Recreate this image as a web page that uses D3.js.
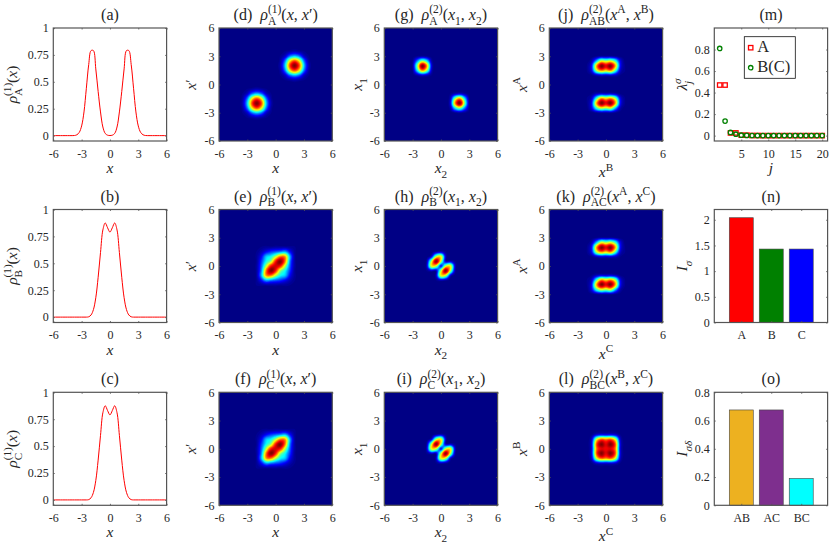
<!DOCTYPE html>
<html>
<head>
<meta charset="utf-8">
<script src="https://cdn.jsdelivr.net/npm/d3@7"></script>
<style>
  body { margin: 0; background: #fff; }
  text { font-family: "Liberation Serif", "DejaVu Serif", serif; fill: #262626; white-space: pre; }
</style>
</head>
<body>
<svg id="chart" width="830" height="545"></svg>
<script>
// tick labels
const xTicks = [-6, -3, 0, 3, 6];
const densityTicks = [0, 0.25, 0.5, 0.75, 1];
const lambdaXTicks = [5, 10, 15, 20];
const lambdaYTicks = [0, 0.2, 0.4, 0.6, 0.8];
const entropyTicks = [0, 0.5, 1, 1.5, 2];
const mutualTicks = [0, 0.2, 0.4, 0.6, 0.8];

// one body densities, (a) (b) (c)
const densityX = [-6, -5.75, -5.5, -5.25, -5, -4.75, -4.5, -4.25, -4, -3.75, -3.5, -3.25, -3, -2.75, -2.5, -2.25, -2, -1.75, -1.5, -1.25, -1, -0.75, -0.5, -0.25, 0, 0.25, 0.5, 0.75, 1, 1.25, 1.5, 1.75, 2, 2.25, 2.5, 2.75, 3, 3.25, 3.5, 3.75, 4, 4.25, 4.5, 4.75, 5, 5.25, 5.5, 5.75, 6];
const densityA = [0, 0, 0, 0, 0, 0, 0, 0, 0, 0.001, 0.008, 0.03, 0.09, 0.22, 0.44, 0.66, 0.79, 0.79, 0.62, 0.41, 0.22, 0.08, 0.02, 0.004, 0.001, 0.004, 0.02, 0.08, 0.22, 0.41, 0.62, 0.79, 0.79, 0.66, 0.44, 0.22, 0.09, 0.03, 0.008, 0.001, 0, 0, 0, 0, 0, 0, 0, 0, 0];
const densityB = [0, 0, 0, 0, 0, 0, 0, 0, 0, 0, 0, 0, 0, 0, 0, 0.003, 0.02, 0.07, 0.18, 0.37, 0.6, 0.81, 0.875, 0.83, 0.79, 0.83, 0.875, 0.81, 0.6, 0.37, 0.18, 0.07, 0.02, 0.003, 0, 0, 0, 0, 0, 0, 0, 0, 0, 0, 0, 0, 0, 0, 0];
const densityC = [0, 0, 0, 0, 0, 0, 0, 0, 0, 0, 0, 0, 0, 0, 0, 0.003, 0.02, 0.07, 0.18, 0.37, 0.6, 0.81, 0.875, 0.83, 0.79, 0.83, 0.875, 0.81, 0.6, 0.37, 0.18, 0.07, 0.02, 0.003, 0, 0, 0, 0, 0, 0, 0, 0, 0, 0, 0, 0, 0, 0, 0];

// natural occupations (m)
const orbitalJ = [1, 2, 3, 4, 5, 6, 7, 8, 9, 10, 11, 12, 13, 14, 15, 16, 17, 18, 19, 20];
const lambdaA = [0.47, 0.47, 0.025, 0.025, 0.004, 0.004, 0.001, 0.001, 0, 0, 0, 0, 0, 0, 0, 0, 0, 0, 0, 0];
const lambdaB = [0.81, 0.135, 0.03, 0.013, 0.004, 0.002, 0.001, 0, 0, 0, 0, 0, 0, 0, 0, 0, 0, 0, 0, 0];

// entropies (n) and mutual information (o)
const speciesNames = ["A", "B", "C"];
const speciesEntropy = [2.04, 1.43, 1.43];
const pairNames = ["AB", "AC", "BC"];
const pairInfo = [0.675, 0.675, 0.19];

// heat map samples in percent of the peak, x and y from -4 to 4 by 0.5, top row y = 4
const gridStep = 0.5;
const gridStart = -4;
const rho1A = [
  [0,0,0,0,0,0,0,0,0,0,0,0,0,0,0,0,0],
  [0,0,0,0,0,0,0,0,0,0,1,3,5,3,1,0,0],
  [0,0,0,0,0,0,0,0,0,1,7,24,32,24,7,1,0],
  [0,0,0,0,0,0,0,0,0,3,24,62,80,62,24,3,0],
  [0,0,0,0,0,0,0,0,0,5,32,80,100,80,32,5,0],
  [0,0,0,0,0,0,0,0,0,3,24,62,80,62,24,3,0],
  [0,0,0,0,0,0,0,0,0,1,7,24,32,24,7,1,0],
  [0,0,0,0,0,0,0,0,0,0,1,3,5,3,1,0,0],
  [0,0,0,0,0,0,0,0,0,0,0,0,0,0,0,0,0],
  [0,0,1,3,5,3,1,0,0,0,0,0,0,0,0,0,0],
  [0,1,7,24,32,24,7,1,0,0,0,0,0,0,0,0,0],
  [0,3,24,62,80,62,24,3,0,0,0,0,0,0,0,0,0],
  [0,5,32,80,100,80,32,5,0,0,0,0,0,0,0,0,0],
  [0,3,24,62,80,62,24,3,0,0,0,0,0,0,0,0,0],
  [0,1,7,24,32,24,7,1,0,0,0,0,0,0,0,0,0],
  [0,0,1,3,5,3,1,0,0,0,0,0,0,0,0,0,0],
  [0,0,0,0,0,0,0,0,0,0,0,0,0,0,0,0,0]
];
const rho1B = [
  [0,0,0,0,0,0,0,0,0,0,0,0,0,0,0,0,0],
  [0,0,0,0,0,0,0,0,0,0,0,0,0,0,0,0,0],
  [0,0,0,0,0,0,0,0,0,0,0,0,0,0,0,0,0],
  [0,0,0,0,0,0,0,0,0,0,0,0,0,0,0,0,0],
  [0,0,0,0,0,1,2,2,3,3,3,2,1,0,0,0,0],
  [0,0,0,0,1,5,12,18,22,26,30,14,2,0,0,0,0],
  [0,0,0,0,2,12,32,38,55,75,72,30,3,0,0,0,0],
  [0,0,0,0,2,18,38,52,85,100,75,26,3,0,0,0,0],
  [0,0,0,0,3,22,55,85,92,85,55,22,3,0,0,0,0],
  [0,0,0,0,3,26,75,100,85,52,38,18,2,0,0,0,0],
  [0,0,0,0,3,30,72,75,55,38,32,12,2,0,0,0,0],
  [0,0,0,0,2,14,30,26,22,18,12,5,1,0,0,0,0],
  [0,0,0,0,1,2,3,3,3,2,2,1,0,0,0,0,0],
  [0,0,0,0,0,0,0,0,0,0,0,0,0,0,0,0,0],
  [0,0,0,0,0,0,0,0,0,0,0,0,0,0,0,0,0],
  [0,0,0,0,0,0,0,0,0,0,0,0,0,0,0,0,0],
  [0,0,0,0,0,0,0,0,0,0,0,0,0,0,0,0,0]
];
const rho2A = [
  [0,0,0,0,0,0,0,0,0,0,0,0,0,0,0,0,0],
  [0,0,0,0,0,0,0,0,0,0,0,0,0,0,0,0,0],
  [0,0,0,1,2,1,0,0,0,0,0,0,0,0,0,0,0],
  [0,0,1,25,50,36,4,0,0,0,0,0,0,0,0,0,0],
  [0,0,2,50,100,72,9,0,0,0,0,0,0,0,0,0,0],
  [0,0,1,36,72,52,6,0,0,0,0,0,0,0,0,0,0],
  [0,0,0,4,9,6,1,0,0,0,0,0,0,0,0,0,0],
  [0,0,0,0,0,0,0,0,0,0,0,0,0,0,0,0,0],
  [0,0,0,0,0,0,0,0,0,0,0,0,0,0,0,0,0],
  [0,0,0,0,0,0,0,0,0,0,0,0,0,0,0,0,0],
  [0,0,0,0,0,0,0,0,0,0,1,6,9,4,0,0,0],
  [0,0,0,0,0,0,0,0,0,0,6,52,72,36,1,0,0],
  [0,0,0,0,0,0,0,0,0,0,9,72,100,50,2,0,0],
  [0,0,0,0,0,0,0,0,0,0,4,36,50,25,1,0,0],
  [0,0,0,0,0,0,0,0,0,0,0,1,2,1,0,0,0],
  [0,0,0,0,0,0,0,0,0,0,0,0,0,0,0,0,0],
  [0,0,0,0,0,0,0,0,0,0,0,0,0,0,0,0,0]
];
const rho2B = [
  [0,0,0,0,0,0,0,0,0,0,0,0,0,0,0,0,0],
  [0,0,0,0,0,0,0,0,0,0,0,0,0,0,0,0,0],
  [0,0,0,0,0,0,0,0,0,0,0,0,0,0,0,0,0],
  [0,0,0,0,0,0,0,0,0,0,0,0,0,0,0,0,0],
  [0,0,0,0,0,0,0,0,0,0,0,0,0,0,0,0,0],
  [0,0,0,0,0,0,0,3,6,1,0,0,0,0,0,0,0],
  [0,0,0,0,0,0,8,55,62,6,0,0,0,0,0,0,0],
  [0,0,0,0,0,3,55,100,55,5,6,1,0,0,0,0,0],
  [0,0,0,0,0,6,62,55,12,55,62,6,0,0,0,0,0],
  [0,0,0,0,0,1,6,5,55,100,55,3,0,0,0,0,0],
  [0,0,0,0,0,0,0,6,62,55,8,0,0,0,0,0,0],
  [0,0,0,0,0,0,0,1,6,3,0,0,0,0,0,0,0],
  [0,0,0,0,0,0,0,0,0,0,0,0,0,0,0,0,0],
  [0,0,0,0,0,0,0,0,0,0,0,0,0,0,0,0,0],
  [0,0,0,0,0,0,0,0,0,0,0,0,0,0,0,0,0],
  [0,0,0,0,0,0,0,0,0,0,0,0,0,0,0,0,0],
  [0,0,0,0,0,0,0,0,0,0,0,0,0,0,0,0,0]
];
const rhoAB = [
  [0,0,0,0,0,0,0,0,0,0,0,0,0,0,0,0,0],
  [0,0,0,0,0,0,0,0,0,0,0,0,0,0,0,0,0],
  [0,0,0,0,0,0,1,2,2,2,1,0,0,0,0,0,0],
  [0,0,0,0,0,5,30,58,52,58,42,11,0,0,0,0,0],
  [0,0,0,0,1,14,70,100,90,100,70,14,1,0,0,0,0],
  [0,0,0,0,1,12,55,74,66,74,44,8,1,0,0,0,0],
  [0,0,0,0,0,1,6,9,8,9,6,1,0,0,0,0,0],
  [0,0,0,0,0,0,0,0,0,0,0,0,0,0,0,0,0],
  [0,0,0,0,0,0,0,0,0,0,0,0,0,0,0,0,0],
  [0,0,0,0,0,0,0,0,0,0,0,0,0,0,0,0,0],
  [0,0,0,0,0,1,6,9,8,9,6,1,0,0,0,0,0],
  [0,0,0,0,1,8,44,74,66,74,55,12,1,0,0,0,0],
  [0,0,0,0,1,14,70,100,90,100,70,14,1,0,0,0,0],
  [0,0,0,0,0,11,42,58,52,58,30,5,0,0,0,0,0],
  [0,0,0,0,0,0,1,2,2,2,1,0,0,0,0,0,0],
  [0,0,0,0,0,0,0,0,0,0,0,0,0,0,0,0,0],
  [0,0,0,0,0,0,0,0,0,0,0,0,0,0,0,0,0]
];
const rhoBC = [
  [0,0,0,0,0,0,0,0,0,0,0,0,0,0,0,0,0],
  [0,0,0,0,0,0,0,0,0,0,0,0,0,0,0,0,0],
  [0,0,0,0,0,0,0,0,0,0,0,0,0,0,0,0,0],
  [0,0,0,0,0,0,0,0,0,0,0,0,0,0,0,0,0],
  [0,0,0,0,0,0,0,0,0,0,0,0,0,0,0,0,0],
  [0,0,0,0,0,1,8,11,10,11,8,1,0,0,0,0,0],
  [0,0,0,0,0,8,58,78,74,78,58,8,0,0,0,0,0],
  [0,0,0,0,0,11,78,100,90,100,78,11,0,0,0,0,0],
  [0,0,0,0,0,10,74,90,88,90,74,10,0,0,0,0,0],
  [0,0,0,0,0,11,78,100,90,100,78,11,0,0,0,0,0],
  [0,0,0,0,0,8,58,78,74,78,58,8,0,0,0,0,0],
  [0,0,0,0,0,1,8,11,10,11,8,1,0,0,0,0,0],
  [0,0,0,0,0,0,0,0,0,0,0,0,0,0,0,0,0],
  [0,0,0,0,0,0,0,0,0,0,0,0,0,0,0,0,0],
  [0,0,0,0,0,0,0,0,0,0,0,0,0,0,0,0,0],
  [0,0,0,0,0,0,0,0,0,0,0,0,0,0,0,0,0],
  [0,0,0,0,0,0,0,0,0,0,0,0,0,0,0,0,0]
];

// layout
const colX = [53.3, 219, 384.3, 549.3, 714.3];
const rowY = [28, 209.5, 392.3];
const boxW = 113.3;
const boxH = 113;
const axisColor = "#555";
const tickFont = 12;
const labelFont = 15.5;

const svg = d3.select("#chart");

// jet colormap, like the matlab one
const jet = d3.scaleLinear()
  .domain([0, 12.5, 37.5, 62.5, 87.5, 100])
  .range(["#000085", "#0000ff", "#00ffff", "#ffff00", "#ff0000", "#800000"])
  .clamp(true);

// lays out a label with italics, superscripts and subscripts as tspans of one text
function mathLabel(parent, x, y, runs, size, rotated) {
  const t = parent.append("text").attr("font-size", size);
  let cx = 0, stackW = 0;
  runs.forEach(r => {
    const small = r.sup || r.sub;
    const ts = t.append("tspan")
      .attr("x", cx)
      .attr("y", r.sup ? -size * 0.42 : r.sub ? size * 0.3 : 0)
      .attr("font-size", small ? size * 0.72 : size)
      .attr("font-style", r.i ? "italic" : "normal")
      .text(r.t);
    const w = ts.node().getComputedTextLength();
    if (r.stack) {
      stackW = w;               // next run starts at the same x
    } else {
      cx += Math.max(w, stackW);
      stackW = 0;
    }
  });
  t.attr("transform", `translate(${x},${y})` + (rotated ? " rotate(-90)" : "") + ` translate(${-cx / 2},0)`);
  return t;
}

const i = t => ({ t, i: true });
const r = t => ({ t });
const sup = (t, italic) => ({ t, sup: true, i: italic });
const sub = (t, italic) => ({ t, sub: true, i: italic });
const supStack = t => ({ t, sup: true, stack: true });
const supStackI = t => ({ t, sup: true, stack: true, i: true });

// one set of axes with a box and ticks on all four sides
function panel(col, row, xDomain, yDomain, xTickVals, yTickVals, xFmt, yFmt) {
  const g = svg.append("g").attr("transform", `translate(${colX[col]},${rowY[row]})`);
  const x = d3.scaleLinear().domain(xDomain).range([0, boxW]);
  const y = d3.scaleLinear().domain(yDomain).range([boxH, 0]);
  const content = g.append("g");

  const bottom = g.append("g").attr("transform", `translate(0,${boxH})`)
    .call(d3.axisBottom(x).tickValues(xTickVals).tickSize(-1.5).tickSizeOuter(0).tickPadding(8).tickFormat(xFmt || String));
  const left = g.append("g")
    .call(d3.axisLeft(y).tickValues(yTickVals).tickSize(-1.5).tickSizeOuter(0).tickPadding(4.5).tickFormat(yFmt || String));
  const top = g.append("g")
    .call(d3.axisTop(x).tickValues(xTickVals).tickSize(-1.5).tickSizeOuter(0).tickFormat(""));
  const right = g.append("g").attr("transform", `translate(${boxW},0)`)
    .call(d3.axisRight(y).tickValues(yTickVals).tickSize(-1.5).tickSizeOuter(0).tickFormat(""));
  [bottom, left, top, right].forEach(a => {
    a.select(".domain").remove();
    a.selectAll("line").attr("stroke", axisColor).attr("stroke-width", 0.8);
    a.selectAll("text").attr("font-size", tickFont).attr("font-family", null).style("fill", "#262626");
    a.attr("font-family", null).attr("font-size", null);
  });
  g.append("rect").attr("width", boxW).attr("height", boxH)
    .attr("fill", "none").attr("stroke", axisColor).attr("stroke-width", 1.2);
  return { g, x, y, content };
}

function titleOf(p, runs) {
  mathLabel(p.g, boxW / 2, -8, runs, labelFont + 0.5);
}
function xLabelOf(p, runs, off) {
  mathLabel(p.g, boxW / 2, boxH + (off || 32), runs, labelFont);
}
function yLabelOf(p, runs, off) {
  mathLabel(p.g, -off, boxH / 2, runs, labelFont, true);
}

// catmull-rom resampling of a grid, the shading step between samples
function resample(grid, factor) {
  const rows = grid.length, cols = grid[0].length;
  const n = (cols - 1) * factor + 1, m = (rows - 1) * factor + 1;
  const at = (a, b) => grid[Math.max(0, Math.min(rows - 1, b))][Math.max(0, Math.min(cols - 1, a))];
  const cr = (p0, p1, p2, p3, t) => 0.5 * (2 * p1 + (p2 - p0) * t + (2 * p0 - 5 * p1 + 4 * p2 - p3) * t * t + (3 * p1 - p0 - 3 * p2 + p3) * t * t * t);
  const out = new Array(n * m);
  for (let b = 0; b < m; b++) {
    const by = Math.floor(b / factor), ty = b / factor - by;
    for (let a = 0; a < n; a++) {
      const ax = Math.floor(a / factor), tx = a / factor - ax;
      const c = [-1, 0, 1, 2].map(d => cr(at(ax - 1, by + d), at(ax, by + d), at(ax + 1, by + d), at(ax + 2, by + d), tx));
      out[a + b * n] = Math.max(0, cr(c[0], c[1], c[2], c[3], ty));
    }
  }
  return { values: out, n, m };
}

const upsample = 4;
const levels = d3.range(0.8, 100, 100 / 64);

function heatPanel(col, row, grid, title, xLab, yLab, yOff, xOff) {
  const p = panel(col, row, [-6, 6], [-6, 6], xTicks, xTicks);
  p.content.append("rect").attr("width", boxW).attr("height", boxH).attr("fill", jet(0));
  const { values, n, m } = resample(grid, upsample);
  const cellStep = gridStep / upsample;
  const toPixels = d3.geoTransform({
    point(cx, cy) {
      this.stream.point(p.x(gridStart + (cx - 0.5) * cellStep), p.y(-gridStart - (cy - 0.5) * cellStep));
    }
  });
  const path = d3.geoPath(toPixels);
  p.content.selectAll("path")
    .data(d3.contours().size([n, m]).thresholds(levels)(values))
    .join("path")
    .attr("d", path)
    .attr("fill", d => jet(d.value + 50 / 64));
  titleOf(p, title);
  xLabelOf(p, xLab, xOff);
  yLabelOf(p, yLab, yOff);
}

function densityPanel(row, values, title, yLab) {
  const p = panel(0, row, [-6, 6], [-0.05, 1], xTicks, densityTicks);
  const line = d3.line()
    .x((d, k) => p.x(densityX[k]))
    .y(d => p.y(d))
    .curve(d3.curveCatmullRom);
  p.content.append("path").datum(values)
    .attr("d", line).attr("fill", "none").attr("stroke", "#ff0000").attr("stroke-width", 1);
  titleOf(p, title);
  xLabelOf(p, [i("x")]);
  yLabelOf(p, yLab, 36);
}

function barPanel(row, names, values, colors, yDomain, yTickVals, title, yLab) {
  const p = panel(4, row, [0.1, 3.88], yDomain, [1, 2, 3], yTickVals, k => names[k - 1]);
  p.content.selectAll("rect")
    .data(values)
    .join("rect")
    .attr("x", (d, k) => p.x(k + 1 - 0.4))
    .attr("width", (d, k) => p.x(k + 1 + 0.4) - p.x(k + 1 - 0.4))
    .attr("y", d => p.y(d))
    .attr("height", d => p.y(0) - p.y(d))
    .attr("fill", (d, k) => colors[k])
    .attr("stroke", "#444")
    .attr("stroke-width", 0.6);
  titleOf(p, title);
  yLabelOf(p, yLab, 27);
}

const rhoA = (lab, s) => [i("\u03c1"), supStack(s), sub(lab)];

// column 1
densityPanel(0, densityA, [r("(a)")], [...rhoA("A", "(1)"), r("("), i("x"), r(")")]);
densityPanel(1, densityB, [r("(b)")], [...rhoA("B", "(1)"), r("("), i("x"), r(")")]);
densityPanel(2, densityC, [r("(c)")], [...rhoA("C", "(1)"), r("("), i("x"), r(")")]);

// column 2
const xxp = [r("("), i("x"), r(", "), i("x"), r("\u2032)")];
const xLabX = [i("x")];
const yLabXp = [i("x"), r("\u2032")];
heatPanel(1, 0, rho1A, [r("(d)  "), ...rhoA("A", "(1)"), ...xxp], xLabX, yLabXp, 23);
heatPanel(1, 1, rho1B, [r("(e)  "), ...rhoA("B", "(1)"), ...xxp], xLabX, yLabXp, 23);
heatPanel(1, 2, rho1B, [r("(f)  "), ...rhoA("C", "(1)"), ...xxp], xLabX, yLabXp, 23);

// column 3
const x1x2 = [r("("), i("x"), sub("1"), r(", "), i("x"), sub("2"), r(")")];
const xLab2 = [i("x"), sub("2")];
const yLab1 = [i("x"), sub("1")];
heatPanel(2, 0, rho2A, [r("(g)  "), ...rhoA("A", "(2)"), ...x1x2], xLab2, yLab1, 22);
heatPanel(2, 1, rho2B, [r("(h)  "), ...rhoA("B", "(2)"), ...x1x2], xLab2, yLab1, 22);
heatPanel(2, 2, rho2B, [r("(i)  "), ...rhoA("C", "(2)"), ...x1x2], xLab2, yLab1, 22);

// column 4, the superscripts need the label a bit lower
const pairArgs = (a, b) => [r("("), i("x"), sup(a), r(", "), i("x"), sup(b), r(")")];
const xSup = a => [i("x"), sup(a)];
heatPanel(3, 0, rhoAB, [r("(j)  "), ...rhoA("AB", "(2)"), ...pairArgs("A", "B")], xSup("B"), xSup("A"), 22.5, 36);
heatPanel(3, 1, rhoAB, [r("(k)  "), ...rhoA("AC", "(2)"), ...pairArgs("A", "C")], xSup("C"), xSup("A"), 22.5, 36);
heatPanel(3, 2, rhoBC, [r("(l)  "), ...rhoA("BC", "(2)"), ...pairArgs("B", "C")], xSup("C"), xSup("B"), 22.5, 36);

// (m) occupations with a legend
const pm = panel(4, 0, [0, 21], [-0.05, 1], lambdaXTicks, lambdaYTicks);
function squares(sel, cx, cy) {
  sel.append("rect").attr("x", cx - 2.2).attr("y", cy - 2.2).attr("width", 4.4).attr("height", 4.4)
    .attr("fill", "none").attr("stroke", "#ff0000").attr("stroke-width", 1.3);
}
function rings(sel, cx, cy) {
  sel.append("circle").attr("cx", cx).attr("cy", cy).attr("r", 2.2)
    .attr("fill", "none").attr("stroke", "#008000").attr("stroke-width", 1.3);
}
lambdaA.forEach((v, k) => squares(pm.content, pm.x(orbitalJ[k]), pm.y(v)));
lambdaB.forEach((v, k) => rings(pm.content, pm.x(orbitalJ[k]), pm.y(v)));
titleOf(pm, [r("(m)")]);
xLabelOf(pm, [i("j")]);
yLabelOf(pm, [i("\u03bb"), supStackI("\u03c3"), sub("j", true)], 27);

const legend = pm.g.append("g").attr("transform", "translate(30,8.7)");
legend.append("rect").attr("width", 51).attr("height", 41.6)
  .attr("fill", "#fff").attr("stroke", "#111").attr("stroke-width", 0.8);
squares(legend, 6.4, 11);
rings(legend, 6.4, 31);
legend.append("text").attr("x", 13).attr("y", 15.5).attr("font-size", 16.5).text("A");
legend.append("text").attr("x", 13).attr("y", 35.5).attr("font-size", 16.5).text("B(C)");

// (n) and (o)
barPanel(1, speciesNames, speciesEntropy, ["#ff0000", "#008000", "#0000ff"], [0, 2.2], entropyTicks,
  [r("(n)")], [i("I"), sub("\u03c3", true)]);
barPanel(2, pairNames, pairInfo, ["#edb120", "#7e2f8e", "#00ffff"], [0, 0.8], mutualTicks,
  [r("(o)")], [i("I"), sub("\u03c3\u03b4", true)]);
</script>
</body>
</html>
